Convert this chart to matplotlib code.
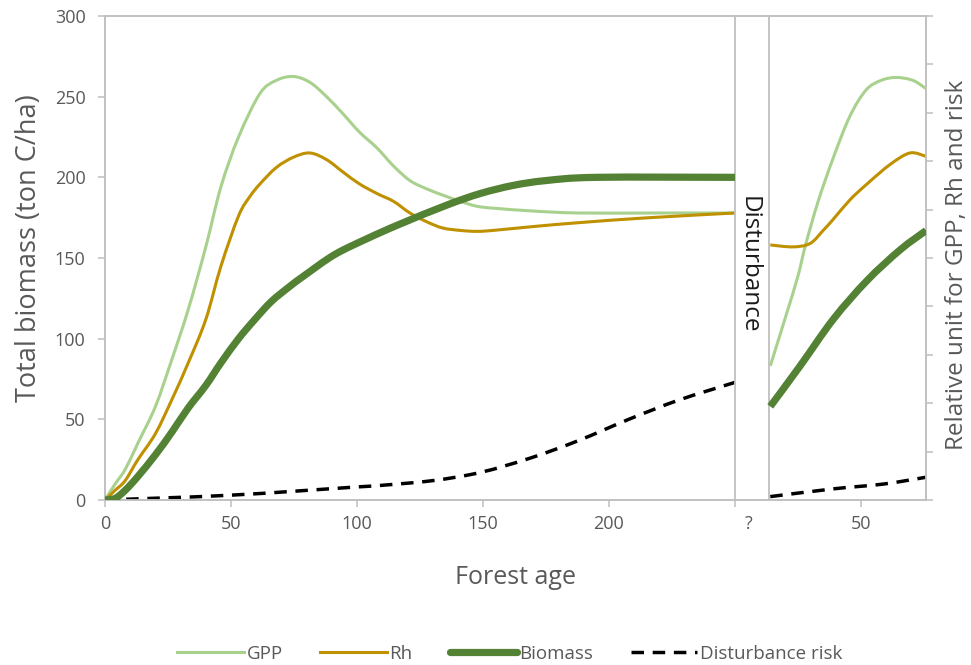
import matplotlib.pyplot as plt
import matplotlib.transforms as mtransforms
from matplotlib.path import Path
from matplotlib.patches import PathPatch
from matplotlib.lines import Line2D

plt.rcParams['font.family'] = ['Open Sans', 'DejaVu Sans']

# First rotation (forest age in years); GPP, Rh and risk in relative units (right axis)
age_gpp1 = [0, 4, 8, 13, 20, 26.5, 33, 40, 46, 53, 61.5, 68, 74.7, 81.3, 88, 94.6, 101, 108, 114.5,
            121, 127.6, 134, 141, 147.5, 154, 170, 188, 220, 250]
gpp1 = [0, 0.33, 0.63, 1.17, 1.93, 2.9, 3.93, 5.23, 6.47, 7.5, 8.4, 8.67, 8.75, 8.63, 8.33, 7.97,
        7.6, 7.27, 6.9, 6.6, 6.43, 6.3, 6.17, 6.07, 6.03, 5.97, 5.93, 5.93, 5.93]

age_rh1 = [0, 4, 8, 13, 20, 26.5, 33, 40, 46, 53, 57.5, 61.5, 68, 74.7, 81.3, 88, 94.6, 101, 108,
           114.5, 121, 127.6, 134, 141, 147.5, 154, 170, 188, 215, 250]
rh1 = [0, 0.2, 0.4, 0.83, 1.37, 2.07, 2.83, 3.73, 4.83, 5.87, 6.27, 6.53, 6.87, 7.08, 7.17, 7.03,
       6.77, 6.53, 6.33, 6.17, 5.93, 5.75, 5.62, 5.57, 5.55, 5.57, 5.65, 5.73, 5.83, 5.93]

# Biomass in ton C/ha (left axis)
age_bio1 = [0, 4, 8, 13, 20, 26.5, 33, 40, 46, 53, 59.5, 66, 73, 79, 91, 104, 117, 136, 149, 162,
            175, 195, 250]
bio1 = [0, 1, 6, 14.5, 28, 42, 57, 71, 85, 100, 112, 123, 132, 139, 152, 162, 171, 183, 190, 195,
        198, 200, 200]

age_risk1 = [0, 50, 100, 109, 130, 149, 169, 188, 208, 228, 250]
risk1 = [0, 0.1, 0.27, 0.3, 0.4, 0.57, 0.87, 1.23, 1.67, 2.07, 2.43]

# Second rotation (age since disturbance)
age_gpp2 = [14, 20, 25, 28, 33, 39, 45.6, 52, 58, 64, 70.6, 75.8]
gpp2 = [2.77, 3.77, 4.63, 5.27, 6.17, 7.07, 7.93, 8.47, 8.67, 8.73, 8.67, 8.5]

age_rh2 = [14, 23, 29.8, 35, 39, 45.6, 52.4, 61.5, 69.4, 75.8]
rh2 = [5.27, 5.23, 5.3, 5.57, 5.8, 6.2, 6.53, 6.93, 7.17, 7.1]

age_bio2 = [14, 25.8, 39, 52.4, 65.5, 75.8]
bio2 = [58, 83, 112, 136, 155, 167]

age_risk2 = [14, 39, 59, 75.8]
risk2 = [0.07, 0.23, 0.33, 0.47]

disturbance_age = 250
regrowth_start = 263.5

x_ticks = [0, 50, 100, 150, 200, 250, 300]
x_labels = ['0', '50', '100', '150', '200', '?', '50']

c_gpp = '#a9d18e'
c_rh = '#bf9000'
c_bio = '#548235'
c_grid = '#bfbfbf'
c_text = '#595959'
risk_dash = (0, (3.6, 2.5))


def smooth_path(xs, ys):
    # Excel-style smoothed line: Catmull-Rom segments as cubic Beziers
    pts = list(zip(xs, ys))
    verts = [pts[0]]
    codes = [Path.MOVETO]
    n = len(pts)
    for i in range(n - 1):
        p0 = pts[max(i - 1, 0)]
        p1 = pts[i]
        p2 = pts[i + 1]
        p3 = pts[min(i + 2, n - 1)]
        c1 = (p1[0] + (p2[0] - p0[0]) / 6, p1[1] + (p2[1] - p0[1]) / 6)
        c2 = (p2[0] - (p3[0] - p1[0]) / 6, p2[1] - (p3[1] - p1[1]) / 6)
        verts += [c1, c2, p2]
        codes += [Path.CURVE4] * 3
    return Path(verts, codes)


def draw(axis, xs, ys, **kw):
    axis.add_patch(PathPatch(smooth_path(xs, ys), fill=False, **kw))


fig = plt.figure(figsize=(9.71, 6.65), dpi=100)
ax = fig.add_axes([105 / 971, 1 - 500 / 665, 821 / 971, 484 / 665])
ax2 = ax.twinx()

draw(ax, age_bio1, bio1, edgecolor=c_bio, lw=5.2, capstyle='butt', zorder=3)
draw(ax, [a + disturbance_age for a in age_bio2], bio2, edgecolor=c_bio, lw=5.2, capstyle='butt', zorder=3)

draw(ax2, age_gpp1, gpp1, edgecolor=c_gpp, lw=2.2, zorder=2)
draw(ax2, [a + disturbance_age for a in age_gpp2], gpp2, edgecolor=c_gpp, lw=2.2, zorder=2)
draw(ax2, age_rh1, rh1, edgecolor=c_rh, lw=2.2, zorder=2)
draw(ax2, [a + disturbance_age for a in age_rh2], rh2, edgecolor=c_rh, lw=2.2, zorder=2)
draw(ax2, age_risk1, risk1, edgecolor='black', lw=2.5, ls=risk_dash, zorder=2)
draw(ax2, [a + disturbance_age for a in age_risk2], risk2, edgecolor='black', lw=2.5, ls=risk_dash, zorder=2)

ax.set_zorder(ax2.get_zorder() + 1)
ax.patch.set_visible(False)

ax.set_xlim(0, 325.8)
ax.set_ylim(0, 300)
ax2.set_ylim(0, 10)
ax.set_yticks(range(0, 301, 50))
ax2.set_yticks(range(0, 11))
ax2.set_yticklabels([])
ax.set_xticks(x_ticks)
ax.set_xticklabels(x_labels)

for a in (ax, ax2):
    for s in a.spines.values():
        s.set_color(c_grid)
        s.set_linewidth(1.1)
ax.tick_params(axis='both', colors=c_grid, labelcolor=c_text, length=5, width=1.1, labelsize=13)
ax.tick_params(axis='y', pad=9)
ax.tick_params(axis='x', pad=6)
ax2.tick_params(axis='y', colors=c_grid, length=5, width=1.1)

# nudge the "?" label to the right like in the original
lbl = ax.get_xticklabels()[5]
lbl.set_transform(lbl.get_transform() + mtransforms.ScaledTranslation(14 / 100, 0, fig.dpi_scale_trans))

for xv in (disturbance_age, regrowth_start):
    ax.axvline(xv, color=c_grid, lw=1.3, zorder=1)
ax.text((disturbance_age + regrowth_start) / 2 - 1.2, 146, 'Disturbance', rotation=270,
        ha='center', va='center', fontsize=17.5, color='#1a1a1a')

ax.set_xlabel('Forest age', fontsize=18, color=c_text)
ax.set_ylabel('Total biomass (ton C/ha)', fontsize=19.5, color=c_text)
ax2.set_ylabel('Relative unit for GPP, Rh and risk', fontsize=17.5, color=c_text)
ax.xaxis.set_label_coords(0.5, -0.135)
ax.yaxis.set_label_coords(-0.076, 0.52)
ax2.yaxis.set_label_coords(1.023, 0.486)

handles = [
    Line2D([], [], color=c_gpp, lw=2.2),
    Line2D([], [], color=c_rh, lw=2.2),
    Line2D([], [], color=c_bio, lw=5.2, solid_capstyle='round'),
    Line2D([], [], color='black', lw=2.5, ls=risk_dash),
]
labels = ['GPP', 'Rh', 'Biomass', 'Disturbance risk']
leg = fig.legend(handles, labels, loc='center', bbox_to_anchor=(0.525, 0.0165), ncol=4,
                 frameon=False, fontsize=13.5, handlelength=3.55, columnspacing=2.0, handletextpad=0.15)
for t in leg.get_texts():
    t.set_color(c_text)

fig.savefig('out.png', dpi=100)
